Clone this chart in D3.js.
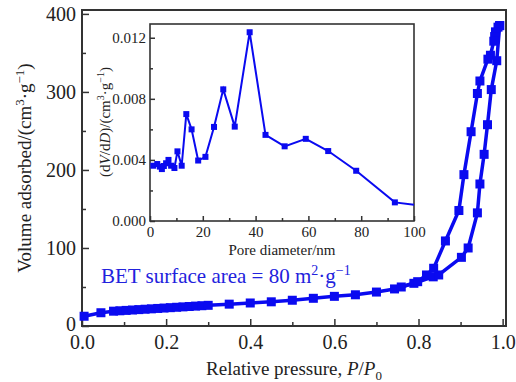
<!DOCTYPE html>
<html>
<head>
<meta charset="utf-8">
<script src="https://cdn.jsdelivr.net/npm/d3@7/dist/d3.min.js"></script>
<style>
  body { margin: 0; background: #fff; }
  text { font-family: "Liberation Serif", "Times New Roman", serif; fill: #222; }
</style>
</head>
<body>
<div id="chart"></div>
<script>
// isotherm, adsorption branch (lower) and desorption branch (upper)
const adsP = [0.005, 0.045, 0.075, 0.09, 0.105, 0.12, 0.135, 0.15, 0.165, 0.18, 0.195, 0.21, 0.225, 0.24, 0.255, 0.27, 0.285, 0.30,
  0.35, 0.40, 0.45, 0.50, 0.55, 0.60, 0.65, 0.70, 0.743, 0.789, 0.835, 0.848, 0.902, 0.918, 0.94, 0.946, 0.956, 0.964, 0.973, 0.986, 0.993];
const adsV = [12.5, 17, 19, 19.5, 20, 20.5, 21, 21.5, 22, 22.5, 23, 23.5, 24, 24.5, 25, 25.5, 26, 26.5,
  28, 29.5, 31, 33, 35.5, 38, 40, 43.5, 47.5, 54.7, 63, 65.4, 88, 100, 145, 182, 220, 258, 303, 340, 385];
const desP = [0.993, 0.989, 0.983, 0.981, 0.979, 0.971, 0.965, 0.946, 0.94, 0.925, 0.908, 0.896, 0.864, 0.836, 0.819, 0.798, 0.759];
const desV = [385, 383, 377, 371, 365, 347, 342, 314, 298, 249, 194, 148, 109, 74, 65.4, 56.8, 50];

// inset: pore size distribution
const poreD = [1.25, 2.75, 3.75, 4.5, 5.25, 6.1, 7, 8, 9.25, 10.4, 12, 13.75, 15.75, 18.25, 21, 24.25, 27.75, 32.1, 37.75,
  43.75, 51, 59, 67.5, 78.1, 92.75, 100];
const poreDv = [0.00362, 0.00373, 0.00356, 0.0034, 0.0036, 0.00378, 0.004, 0.00362, 0.00347, 0.00456, 0.00362, 0.007, 0.006,
  0.00396, 0.0042, 0.00616, 0.00862, 0.00618, 0.01236, 0.00564, 0.00489, 0.00538, 0.00458, 0.00329, 0.00122, 0.00106];

const xTicks = [0, 0.2, 0.4, 0.6, 0.8, 1.0];
const xMinor = [0.1, 0.3, 0.5, 0.7, 0.9];
const yTicks = [0, 100, 200, 300, 400];
const yMinor = [50, 150, 250, 350];
const inXTicks = [0, 20, 40, 60, 80, 100];
const inXMinor = [10, 30, 50, 70, 90];
const inYTicks = [0, 0.004, 0.008, 0.012];
const inYMinor = [0.002, 0.006, 0.010];

const W = 516, H = 382;
const blue = "#0a0af0";
const frame = "#333";

const svg = d3.select("#chart").append("svg")
  .attr("width", W).attr("height", H);

// main plot
const x = d3.scaleLinear().domain([0, 1.008]).range([82, 506]);
const y = d3.scaleLinear().domain([0, 405]).range([326, 10]);

function axisStyle(g) {
  g.select(".domain").remove();
  g.selectAll(".tick line").attr("stroke", frame).attr("stroke-width", 1.5);
}

svg.append("g")
  .attr("transform", "translate(0,326)")
  .call(d3.axisBottom(x).tickValues(xTicks).tickFormat(d3.format(".1f")).tickSize(-7).tickPadding(9))
  .call(axisStyle)
  .selectAll("text").style("font-size", "20px").attr("fill", "#222");
svg.append("g")
  .attr("transform", "translate(0,326)")
  .call(d3.axisBottom(x).tickValues(xMinor).tickFormat("").tickSize(-4))
  .call(axisStyle);

svg.append("g")
  .attr("transform", "translate(82,0)")
  .call(d3.axisLeft(y).tickValues(yTicks).tickSize(-7).tickPadding(6))
  .call(axisStyle)
  .selectAll("text").style("font-size", "20px").attr("fill", "#222")
  .attr("dy", d => d === 0 ? "0.2em" : "0.32em");
svg.append("g")
  .attr("transform", "translate(82,0)")
  .call(d3.axisLeft(y).tickValues(yMinor).tickFormat("").tickSize(-4))
  .call(axisStyle);

svg.append("rect")
  .attr("x", 82).attr("y", 10).attr("width", 424).attr("height", 316)
  .attr("fill", "none").attr("stroke", frame).attr("stroke-width", 2);

const line = d3.line().x(d => x(d[0])).y(d => y(d[1]));
const ads = adsP.map((p, i) => [p, adsV[i]]);
const des = desP.map((p, i) => [p, desV[i]]);

[ads, des].forEach(series => {
  svg.append("path").datum(series)
    .attr("d", line)
    .attr("fill", "none").attr("stroke", blue).attr("stroke-width", 3.5);
  svg.append("g").selectAll("rect").data(series).join("rect")
    .attr("x", d => x(d[0]) - 4.5).attr("y", d => y(d[1]) - 4.5)
    .attr("width", 9).attr("height", 9)
    .attr("fill", blue);
});

// axis titles
const xt = svg.append("text")
  .attr("x", 294).attr("y", 375).attr("text-anchor", "middle")
  .style("font-size", "19px");
xt.append("tspan").text("Relative pressure, ");
xt.append("tspan").style("font-style", "italic").text("P");
xt.append("tspan").text("/");
xt.append("tspan").style("font-style", "italic").text("P");
xt.append("tspan").attr("dy", 5).style("font-size", "13px").text("0");

const yt = svg.append("text")
  .attr("transform", "translate(31,168) rotate(-90)")
  .attr("text-anchor", "middle")
  .style("font-size", "19px");
yt.append("tspan").text("Volume adsorbed/(cm");
yt.append("tspan").attr("dy", -7).style("font-size", "13px").text("3");
yt.append("tspan").attr("dy", 7).text("·g");
yt.append("tspan").attr("dy", -7).style("font-size", "13px").text("−1");
yt.append("tspan").attr("dy", 7).text(")");

// BET annotation
const bet = svg.append("text")
  .attr("x", 101).attr("y", 283)
  .style("font-size", "21px").style("fill", "#2222dd");
bet.append("tspan").text("BET surface area = 80 m");
bet.append("tspan").attr("dy", -8).style("font-size", "14px").text("2");
bet.append("tspan").attr("dy", 8).text("·g");
bet.append("tspan").attr("dy", -8).style("font-size", "14px").text("−1");

// inset
const ix = d3.scaleLinear().domain([0, 100]).range([150, 414]);
const iy = d3.scaleLinear().domain([0, 0.0129]).range([221, 24]);

svg.append("rect")
  .attr("x", 150).attr("y", 24).attr("width", 264).attr("height", 197)
  .attr("fill", "#fff");

svg.append("g")
  .attr("transform", "translate(0,221)")
  .call(d3.axisBottom(ix).tickValues(inXTicks).tickSize(-5).tickPadding(5))
  .call(axisStyle)
  .selectAll("text").style("font-size", "15px").attr("fill", "#222");
svg.append("g")
  .attr("transform", "translate(0,221)")
  .call(d3.axisBottom(ix).tickValues(inXMinor).tickFormat("").tickSize(-3))
  .call(axisStyle);
svg.append("g")
  .attr("transform", "translate(150,0)")
  .call(d3.axisLeft(iy).tickValues(inYTicks).tickFormat(d3.format(".3f")).tickSize(-5).tickPadding(4))
  .call(axisStyle)
  .selectAll("text").style("font-size", "15px").attr("fill", "#222");
svg.append("g")
  .attr("transform", "translate(150,0)")
  .call(d3.axisLeft(iy).tickValues(inYMinor).tickFormat("").tickSize(-3))
  .call(axisStyle);

svg.append("rect")
  .attr("x", 150).attr("y", 24).attr("width", 264).attr("height", 197)
  .attr("fill", "none").attr("stroke", frame).attr("stroke-width", 1.6);

const psd = poreD.map((d, i) => [d, poreDv[i]]);
svg.append("path").datum(psd)
  .attr("d", d3.line().x(d => ix(d[0])).y(d => iy(d[1])))
  .attr("fill", "none").attr("stroke", blue).attr("stroke-width", 2);
svg.append("g").selectAll("rect").data(psd.slice(0, -1)).join("rect")
  .attr("x", d => ix(d[0]) - 3).attr("y", d => iy(d[1]) - 3)
  .attr("width", 6).attr("height", 6)
  .attr("fill", blue);

svg.append("text")
  .attr("x", 282).attr("y", 255).attr("text-anchor", "middle")
  .style("font-size", "15px").text("Pore diameter/nm");

const iyt = svg.append("text")
  .attr("transform", "translate(110,122) rotate(-90)")
  .attr("text-anchor", "middle")
  .style("font-size", "15px");
iyt.append("tspan").text("(d");
iyt.append("tspan").style("font-style", "italic").text("V");
iyt.append("tspan").text("/d");
iyt.append("tspan").style("font-style", "italic").text("D");
iyt.append("tspan").text(")/(cm");
iyt.append("tspan").attr("dy", -6).style("font-size", "10px").text("3");
iyt.append("tspan").attr("dy", 6).text("·g");
iyt.append("tspan").attr("dy", -6).style("font-size", "10px").text("−1");
iyt.append("tspan").attr("dy", 6).text(")");
</script>
</body>
</html>
